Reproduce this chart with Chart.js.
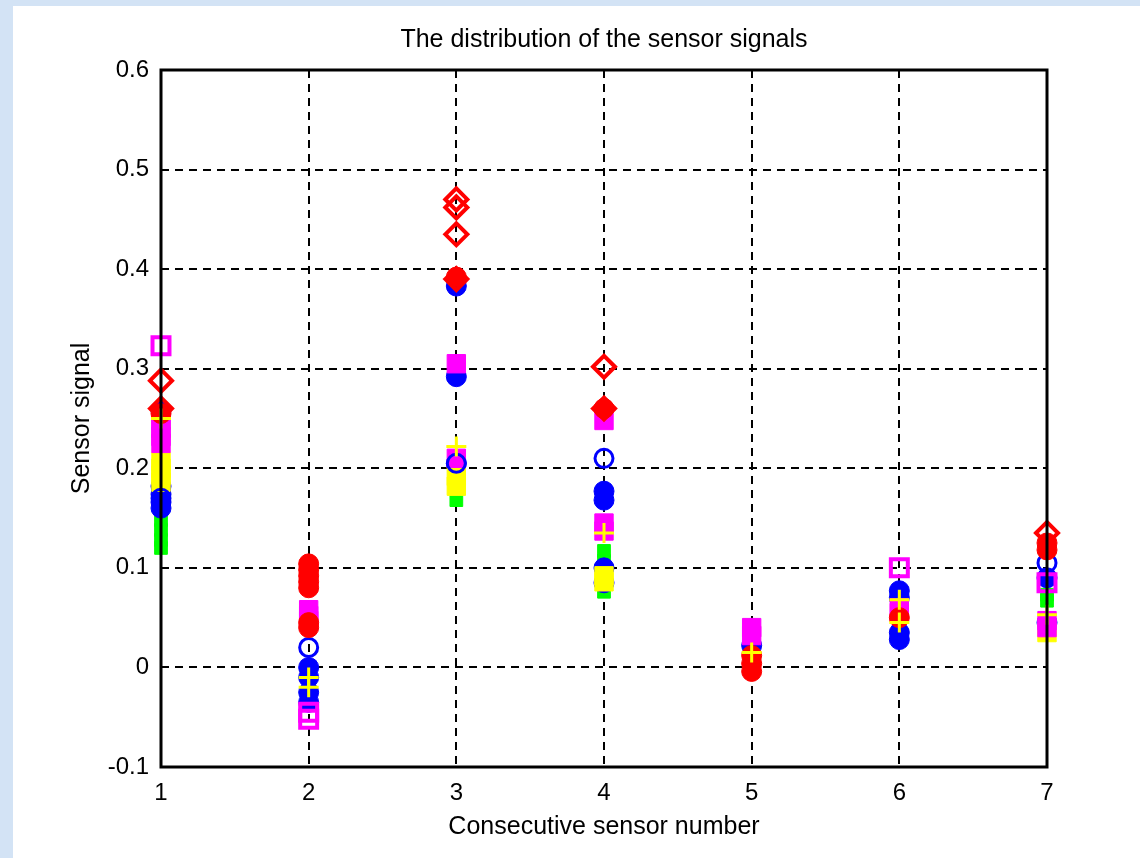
<!DOCTYPE html>
<html>
<head>
<meta charset="utf-8">
<script src="https://cdn.jsdelivr.net/npm/chart.js@4"></script>
<style>
  html, body { margin: 0; padding: 0; background: #d3e3f5; }
  #c { display: block; }
</style>
</head>
<body>
<canvas id="c" width="1140" height="858"></canvas>
<script>
// sensor numbers on the x axis
const sensors = [1, 2, 3, 4, 5, 6, 7];
const yTicks = [-0.1, 0, 0.1, 0.2, 0.3, 0.4, 0.5, 0.6];

// readings per sensor, one list per marker kind
const redDiamond   = [[0.288, 0.26], [], [0.47, 0.462, 0.435, 0.39], [0.302, 0.26], [], [], [0.135]];
const yellowPlus   = [[0.25], [-0.01, -0.02], [0.222], [0.135], [0.015], [0.068, 0.045], [0.053]];
const redFilled    = [[0.255], [0.104, 0.098, 0.092, 0.086, 0.08, 0.045, 0.04], [0.392], [0.26], [0.012, 0.004, -0.004], [0.05], [0.125, 0.118]];
const magentaOpen  = [[0.323], [-0.045, -0.052], [], [], [], [0.1], [0.085]];
const blueOpen     = [[0.17], [0.02], [0.205], [0.21], [], [], [0.105]];
const magentaFill  = [[0.248, 0.24, 0.232, 0.225], [0.058, 0.052, 0.047], [0.305, 0.21], [0.248, 0.145, 0.137], [0.04, 0.032], [0.06, 0.055], [0.047, 0.04]];
const yellowFill   = [[0.207, 0.2, 0.193, 0.186], [], [0.192, 0.182], [0.092, 0.086], [], [], [0.035]];
const blueFill     = [[0.258, 0.182, 0.174, 0.166, 0.16], [0.0, -0.01, -0.025, -0.035], [0.383, 0.292, 0.205], [0.177, 0.168, 0.1, 0.085], [0.022], [0.077, 0.07, 0.035, 0.028], [0.09, 0.045]];
const greenFill    = [[0.148, 0.138, 0.128, 0.12], [], [0.168], [0.117, 0.107, 0.098, 0.076], [], [], [0.073, 0.067]];

function toPoints(list) {
  const pts = [];
  list.forEach((vals, i) => {
    vals.forEach(v => pts.push({ x: sensors[i], y: v }));
  });
  return pts;
}

function series(list, color, style, radius, filled, bw) {
  return {
    data: toPoints(list),
    showLine: false,
    clip: false,
    pointStyle: style,
    pointRadius: radius,
    pointHoverRadius: radius,
    borderColor: color,
    backgroundColor: filled ? color : 'rgba(0,0,0,0)',
    pointBorderWidth: bw
  };
}

// first dataset is drawn on top
const datasets = [
  series(yellowPlus, '#ffff00', 'cross', 10, false, 3),
  series(redDiamond, '#ff0000', 'rectRot', 11, false, 4),
  series(redFilled, '#ff0000', 'circle', 10, true, 1),
  series(magentaOpen, '#ff00ff', 'rect', 12, false, 4),
  series(blueOpen, '#0000ff', 'circle', 9, false, 3),
  series(magentaFill, '#ff00ff', 'rect', 13, true, 1),
  series(yellowFill, '#ffff00', 'rect', 13, true, 1),
  series(blueFill, '#0000ff', 'circle', 10, true, 1),
  series(greenFill, '#00ff00', 'rect', 9, true, 1)
];

const bgPlugin = {
  id: 'bg',
  beforeDraw(chart) {
    const ctx = chart.ctx;
    ctx.save();
    ctx.fillStyle = '#d3e3f5';
    ctx.fillRect(0, 0, chart.width, chart.height);
    ctx.fillStyle = '#ffffff';
    ctx.fillRect(13, 6, chart.width - 13, chart.height - 6);
    ctx.restore();
  }
};

const boxPlugin = {
  id: 'box',
  afterDraw(chart) {
    const a = chart.chartArea;
    const ctx = chart.ctx;
    ctx.save();
    ctx.strokeStyle = '#000';
    ctx.lineWidth = 3;
    ctx.strokeRect(a.left, a.top, a.right - a.left, a.bottom - a.top);
    ctx.restore();
  }
};

const fontFam = '"Liberation Sans", Arial, sans-serif';

new Chart(document.getElementById('c'), {
  type: 'scatter',
  data: { datasets: datasets },
  plugins: [bgPlugin, boxPlugin],
  options: {
    responsive: false,
    animation: false,
    devicePixelRatio: 1,
    layout: { padding: { left: 63, right: 93, top: 0, bottom: 12 } },
    plugins: {
      legend: { display: false },
      tooltip: { enabled: false },
      title: {
        display: true,
        text: 'The distribution of the sensor signals',
        color: '#000',
        fullSize: false,
        font: { family: fontFam, size: 25, weight: 'normal' },
        padding: { top: 25, bottom: 15 }
      }
    },
    scales: {
      x: {
        type: 'linear',
        min: 1,
        max: 7,
        afterFit(scale) { scale.height = 79; },
        ticks: {
          stepSize: 1,
          padding: 12,
          color: '#000',
          font: { family: fontFam, size: 24 }
        },
        grid: {
          color: '#000',
          lineWidth: 2,
          drawTicks: false
        },
        border: { display: false, dash: [8, 6] },
        title: {
          display: true,
          text: 'Consecutive sensor number',
          color: '#000',
          font: { family: fontFam, size: 25 }
        }
      },
      y: {
        type: 'linear',
        min: yTicks[0],
        max: yTicks[yTicks.length - 1],
        afterFit(scale) { scale.width = 98; },
        afterBuildTicks(scale) { scale.ticks = yTicks.map(v => ({ value: v })); },
        ticks: {
          padding: 12,
          color: '#000',
          font: { family: fontFam, size: 24 },
          callback: v => String(+v.toFixed(1))
        },
        grid: {
          color: '#000',
          lineWidth: 2,
          drawTicks: false
        },
        border: { display: false, dash: [8, 6] },
        title: {
          display: true,
          text: 'Sensor signal',
          color: '#000',
          font: { family: fontFam, size: 25 }
        }
      }
    }
  }
});
</script>
</body>
</html>
